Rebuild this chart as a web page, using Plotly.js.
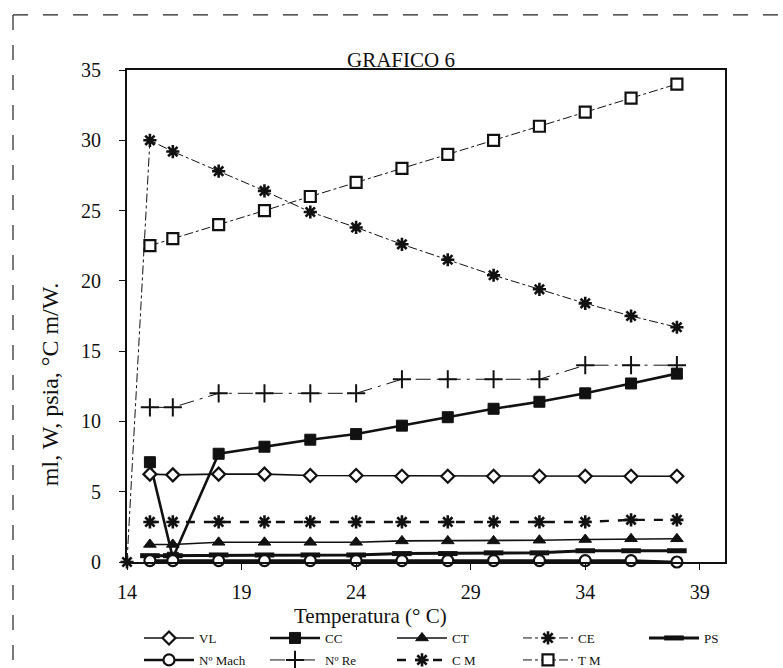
<!DOCTYPE html>
<html><head><meta charset="utf-8">
<script src="https://cdn.plot.ly/plotly-3.0.1.min.js"></script>
<style>html,body{margin:0;padding:0;background:#fff;} #chart{width:783px;height:668px;}</style>
</head><body><div id="chart"></div>
<script>
// Temperature (x) values
const temp   = [15, 16, 18, 20, 22, 24, 26, 28, 30, 32, 34, 36, 38];
const tempCE = [14, 15, 16, 18, 20, 22, 24, 26, 28, 30, 32, 34, 36, 38];
// Series values
const VL    = [6.25, 6.2, 6.25, 6.25, 6.15, 6.15, 6.1, 6.1, 6.1, 6.1, 6.1, 6.1, 6.1];
const CC    = [7.1, 0.3, 7.7, 8.2, 8.7, 9.1, 9.7, 10.3, 10.9, 11.4, 12.0, 12.7, 13.4];
const CT    = [1.25, 1.25, 1.4, 1.4, 1.4, 1.4, 1.5, 1.5, 1.5, 1.55, 1.6, 1.65, 1.65];
const CE    = [0, 30, 29.2, 27.8, 26.4, 24.9, 23.8, 22.6, 21.5, 20.4, 19.4, 18.4, 17.5, 16.7];
const PS    = [0.45, 0.45, 0.5, 0.5, 0.5, 0.5, 0.6, 0.6, 0.65, 0.65, 0.8, 0.8, 0.8];
const NMach = [0.1, 0.1, 0.1, 0.1, 0.1, 0.1, 0.1, 0.1, 0.1, 0.1, 0.1, 0.1, 0.0];
const NRe   = [11, 11, 12, 12, 12, 12, 13, 13, 13, 13, 14, 14, 14];
const CM    = [2.85, 2.85, 2.85, 2.85, 2.85, 2.85, 2.85, 2.85, 2.85, 2.85, 2.85, 3.0, 3.0];
const TM    = [22.5, 23, 24, 25, 26, 27, 28, 29, 30, 31, 32, 33, 34];
// Axis ticks
const xTicks = [14, 19, 24, 29, 34, 39];
const yTicks = [0, 5, 10, 15, 20, 25, 30, 35];

const serif = 'Liberation Serif, Times New Roman, serif';
const K = '#111';
const W = 783, H = 668;
const L = 127, R = 725, T = 70, B = 561.7;
const px = v => (v - L) / (R - L);
const py = v => (B - v) / (B - T);

function tr(name, x, y, lineW, dash, sym, size, fill, mlw, legend) {
  return {
    type: 'scatter', mode: 'lines+markers', name: name, x: x, y: y,
    line: {color: K, width: lineW, dash: dash},
    marker: {symbol: sym, size: size, color: fill, line: {color: K, width: mlw}},
    cliponaxis: false, legend: legend
  };
}

// draw order (back to front)
const data = [
  tr('T M', temp, TM, 1, 'dashdot', 'square', 11, '#fff', 2.2, 'legend9'),
  tr('CE', tempCE, CE, 1, 'dashdot', 'asterisk-open', 11, K, 2.6, 'legend4'),
  tr('N\u00ba Re', temp, NRe, 1, 'longdashdot', 'cross-thin-open', 13, K, 2, 'legend7'),
  tr('CC', temp, CC, 2.6, 'solid', 'square', 11, K, 1, 'legend2'),
  tr('VL', temp, VL, 1.6, 'solid', 'diamond', 10, '#fff', 2.2, 'legend'),
  tr('C M', temp, CM, 2.4, 'dash', 'asterisk-open', 11, K, 2.6, 'legend8'),
  tr('CT', temp, CT, 1.6, 'solid', 'triangle-up', 11, K, 1, 'legend3'),
  tr('PS', temp, PS, 3, 'solid', 'line-ew-open', 14, K, 5, 'legend5'),
  tr('N\u00ba Mach', temp, NMach, 2.6, 'solid', 'circle', 11, '#fff', 2.2, 'legend6')
];

// legend grid: columns (symbol start, px) and rows (centre, px)
const legCols = [142, 268, 395, 521, 647];
const legRows = [638, 660];
function leg(col, row) {
  return {
    orientation: 'h', xref: 'container', yref: 'container',
    x: (legCols[col] - 3) / W, xanchor: 'left',
    y: 1 - legRows[row] / H, yanchor: 'middle',
    font: {family: serif, size: 13, color: K}, itemwidth: 50,
    bgcolor: 'rgba(0,0,0,0)', borderwidth: 0, itemclick: false
  };
}

const layout = {
  width: W, height: H,
  margin: {l: L, r: W - R, t: T, b: H - B, autoexpand: false},
  paper_bgcolor: '#fff', plot_bgcolor: '#fff',
  font: {family: serif, size: 18, color: K},
  title: {text: 'GRAFICO 6', font: {family: serif, size: 21, color: K},
          xref: 'container', x: 401 / W, xanchor: 'center',
          yref: 'container', y: 1 - 60 / H, yanchor: 'middle'},
  xaxis: {range: [14, 40.1], tickvals: xTicks, ticks: 'outside', ticklen: 6, tickwidth: 1,
          tickcolor: K, showline: true, linewidth: 2, linecolor: K, mirror: true,
          showgrid: false, zeroline: false, ticklabelstandoff: 5,
          tickfont: {family: serif, size: 20, color: K}},
  yaxis: {range: [0, 35], tickvals: yTicks, ticks: 'outside', ticklen: 6, tickwidth: 1,
          tickcolor: K, showline: true, linewidth: 2, linecolor: K, mirror: true,
          showgrid: false, zeroline: false, ticklabelstandoff: 14,
          tickfont: {family: serif, size: 20, color: K}},
  showlegend: true,
  legend:  leg(0, 0), legend2: leg(1, 0), legend3: leg(2, 0), legend4: leg(3, 0), legend5: leg(4, 0),
  legend6: leg(0, 1), legend7: leg(1, 1), legend8: leg(2, 1), legend9: leg(3, 1),
  annotations: [
    {text: 'Temperatura (\u00b0 C)', xref: 'paper', yref: 'paper', x: px(370), y: py(616),
     xanchor: 'center', yanchor: 'middle', showarrow: false,
     font: {family: serif, size: 21, color: K}},
    {text: 'ml, W, psia, \u00b0C m/W.', xref: 'paper', yref: 'paper', x: px(50), y: py(385),
     xanchor: 'center', yanchor: 'middle', textangle: -90, showarrow: false,
     font: {family: serif, size: 24, color: K}}
  ],
  shapes: [
    {type: 'line', xref: 'paper', yref: 'paper', x0: px(13), x1: px(783), y0: py(15), y1: py(15),
     line: {color: '#222', width: 1.2, dash: 'longdash'}},
    {type: 'line', xref: 'paper', yref: 'paper', x0: px(13), x1: px(13), y0: py(15), y1: py(668),
     line: {color: '#222', width: 1.2, dash: 'longdash'}}
  ]
};

Plotly.newPlot('chart', data, layout, {displayModeBar: false, staticPlot: true});
</script></body></html>
